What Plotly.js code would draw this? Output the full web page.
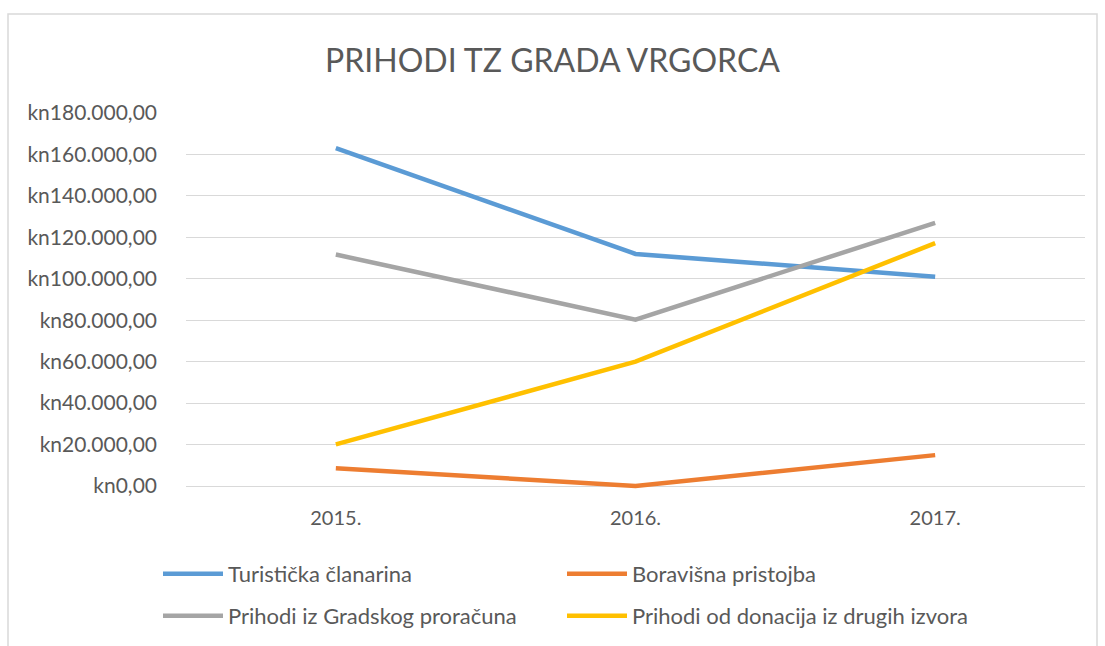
<!DOCTYPE html>
<html>
<head>
<meta charset="utf-8">
<script src="https://cdn.plot.ly/plotly-3.0.1.min.js"></script>
<style>html,body{margin:0;padding:0;background:#fff;}#chart{width:1105px;height:646px;}</style>
</head>
<body>
<div id="chart"></div>
<script>
const years = ['2015.', '2016.', '2017.'];
const seriesNames = ['Turistička članarina', 'Boravišna pristojba', 'Prihodi iz Gradskog proračuna', 'Prihodi od donacija iz drugih izvora'];
const turistickaClanarina = [163000, 112000, 101000];
const boravisnaPristojba = [8600, 0, 14900];
const gradskiProracun = [111700, 80300, 127000];
const donacije = [20100, 60000, 117200];
const yTicks = [0, 20000, 40000, 60000, 80000, 100000, 120000, 140000, 160000, 180000];

const colors = ['#5B9BD5', '#ED7D31', '#A5A5A5', '#FFC000'];
const values = [turistickaClanarina, boravisnaPristojba, gradskiProracun, donacije];
const legendIds = ['legend', 'legend2', 'legend3', 'legend4'];

function fmtKn(v) {
  const int = Math.round(v).toString().replace(/\B(?=(\d{3})+(?!\d))/g, '.');
  return 'kn' + int + ',00';
}
const yTickText = yTicks.map(fmtKn);

const traces = values.map((v, i) => ({
  type: 'scatter', mode: 'lines', x: years, y: v, name: seriesNames[i],
  line: {color: colors[i], width: 4.5}, legend: legendIds[i], hoverinfo: 'skip'
}));

// plot area: 0 at y=486px, 180000 at y=113px; extended 4px below zero so the zero-value line isn't clipped
const L = 186, T = 113, W = 899, H0 = 373, EXT = 4;
const H = H0 + EXT;
const yMax = 180000;
const yMin = -yMax * EXT / H0;
const px = x => (x - L) / W;
const py = y => (T + H - y) / H;
const font = 'Lato, "Open Sans", sans-serif';

const legendBase = {orientation: 'h', xanchor: 'left', yanchor: 'top', itemwidth: 60, font: {size: 22, color: '#595959'}, bgcolor: 'rgba(0,0,0,0)'};
const legendPos = [[158, 553], [562, 553], [158, 595], [562, 595]];

const layout = {
  width: 1105, height: 646,
  margin: {l: L, r: 1105 - L - W, t: T, b: 646 - T - H, autoexpand: false},
  paper_bgcolor: '#fff', plot_bgcolor: '#fff',
  font: {family: font, color: '#595959', size: 20},
  title: {text: 'PRIHODI TZ GRADA VRGORCA', font: {size: 32, color: '#595959', family: font}, x: 0.5, xanchor: 'center', y: 1 - 61/646, yanchor: 'middle'},
  xaxis: {type: 'category', range: [-0.5, 2.5], showgrid: false, zeroline: false, showline: false, ticks: '', ticklabelstandoff: 18 - EXT, tickfont: {size: 20, color: '#595959'}},
  yaxis: {range: [yMin, yMax], tickvals: yTicks, ticktext: yTickText, showgrid: true, gridcolor: '#D9D9D9', gridwidth: 1, zeroline: false, showline: false, ticks: '', ticklabelstandoff: 28, tickfont: {size: 21, color: '#595959'}},
  showlegend: true,
  shapes: [{type: 'rect', xref: 'paper', yref: 'paper', x0: px(8), x1: px(1097), y0: py(660), y1: py(14), line: {color: '#D9D9D9', width: 1.5}, layer: 'below'}]
};
legendIds.forEach((id, i) => {
  layout[id] = Object.assign({}, legendBase, {x: px(legendPos[i][0]), y: py(legendPos[i][1])});
});

Plotly.newPlot('chart', traces, layout, {staticPlot: true});
</script>
</body>
</html>
